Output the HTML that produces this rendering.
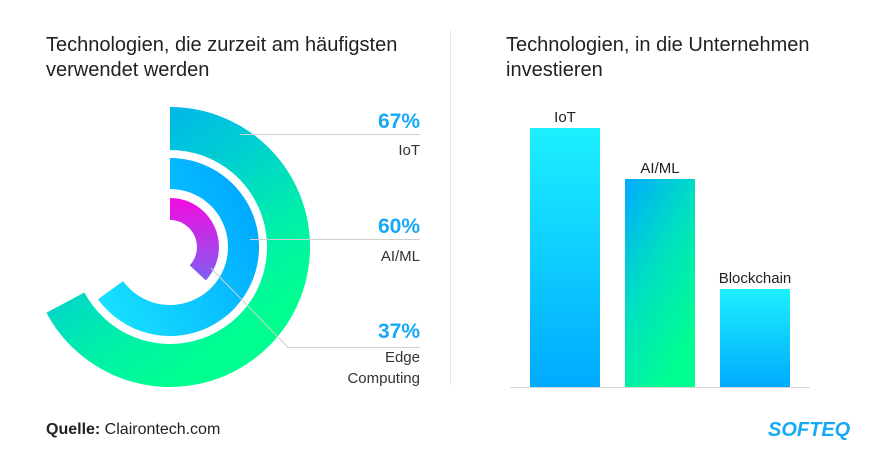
<!DOCTYPE html>
<html><head><meta charset="utf-8"><style>
body{margin:0;background:#fff;}
svg text{font-family:"Liberation Sans",Arial,sans-serif;}
</style></head><body>
<svg width="880" height="468" viewBox="0 0 880 468" xmlns="http://www.w3.org/2000/svg">
<defs>
<linearGradient id="go" x1="0" y1="0.1" x2="0.55" y2="0.95"><stop offset="0" stop-color="#00a8f8"/><stop offset="0.45" stop-color="#00d0d0"/><stop offset="0.75" stop-color="#00f0a8"/><stop offset="1" stop-color="#00ff90"/></linearGradient>
<linearGradient id="gm" x1="0" y1="1" x2="1" y2="0.4"><stop offset="0" stop-color="#1ae6ff"/><stop offset="1" stop-color="#00aaff"/></linearGradient>
<linearGradient id="gi" x1="0" y1="0" x2="0" y2="1"><stop offset="0" stop-color="#f40ae0"/><stop offset="1" stop-color="#8060f0"/></linearGradient>
<linearGradient id="b1" x1="0" y1="0" x2="0" y2="1"><stop offset="0" stop-color="#1cf0ff"/><stop offset="1" stop-color="#00aaff"/></linearGradient>
<linearGradient id="b2" x1="0" y1="0" x2="0.6" y2="1"><stop offset="0" stop-color="#00aaff"/><stop offset="0.5" stop-color="#00e0c0"/><stop offset="1" stop-color="#00ff90"/></linearGradient>
</defs>
<text x="46" y="51" font-size="20" fill="#222">Technologien, die zurzeit am häufigsten</text>
<text x="46" y="76" font-size="20" fill="#222">verwendet werden</text>
<text x="506" y="51" font-size="20" fill="#222">Technologien, in die Unternehmen</text>
<text x="506" y="76" font-size="20" fill="#222">investieren</text>
<line x1="450.5" y1="30" x2="450.5" y2="385" stroke="#e6e6e6" stroke-width="1"/>
<path d="M170 107 A140 140 0 1 1 46.4 312.7 L84.4 292.5 A97 97 0 1 0 170 150 Z" fill="url(#go)"/>
<path d="M170 158 A89 89 0 1 1 98 299.3 L123.1 281.1 A58 58 0 1 0 170 189 Z" fill="url(#gm)"/>
<path d="M170 198 A49 49 0 0 1 205.8 280.4 L189.7 265.4 A27 27 0 0 0 170 220 Z" fill="url(#gi)"/>
<g stroke="#cfcfcf" stroke-width="1" fill="none">
<line x1="240" y1="134.5" x2="420" y2="134.5"/>
<line x1="250" y1="239.5" x2="420" y2="239.5"/>
<polyline points="211,268 288,347.5 420,347.5"/>
</g>
<g text-anchor="end">
<text x="420" y="128" font-size="21" font-weight="bold" fill="#17a9f5">67%</text>
<text x="420" y="155" font-size="15" fill="#333">IoT</text>
<text x="420" y="233" font-size="21" font-weight="bold" fill="#17a9f5">60%</text>
<text x="420" y="261" font-size="15" fill="#333">AI/ML</text>
<text x="420" y="338" font-size="21" font-weight="bold" fill="#17a9f5">37%</text>
<text x="420" y="362" font-size="15" fill="#333">Edge</text>
<text x="420" y="383" font-size="15" fill="#333">Computing</text>
</g>
<rect x="530" y="128" width="70" height="259" fill="url(#b1)"/>
<rect x="625" y="179" width="70" height="208" fill="url(#b2)"/>
<rect x="720" y="289" width="70" height="98" fill="url(#b1)"/>
<line x1="510" y1="387.5" x2="810" y2="387.5" stroke="#d8d8d8" stroke-width="1"/>
<g text-anchor="middle" font-size="15" fill="#222">
<text x="565" y="122">IoT</text>
<text x="660" y="173">AI/ML</text>
<text x="755" y="283">Blockchain</text>
</g>
<text x="46" y="434" font-size="16" fill="#222"><tspan font-weight="bold">Quelle:</tspan> Clairontech.com</text>
<text x="768" y="436" font-size="20" font-weight="bold" font-style="italic" fill="#17a9f5">SOFTEQ</text>
</svg>
</body></html>
